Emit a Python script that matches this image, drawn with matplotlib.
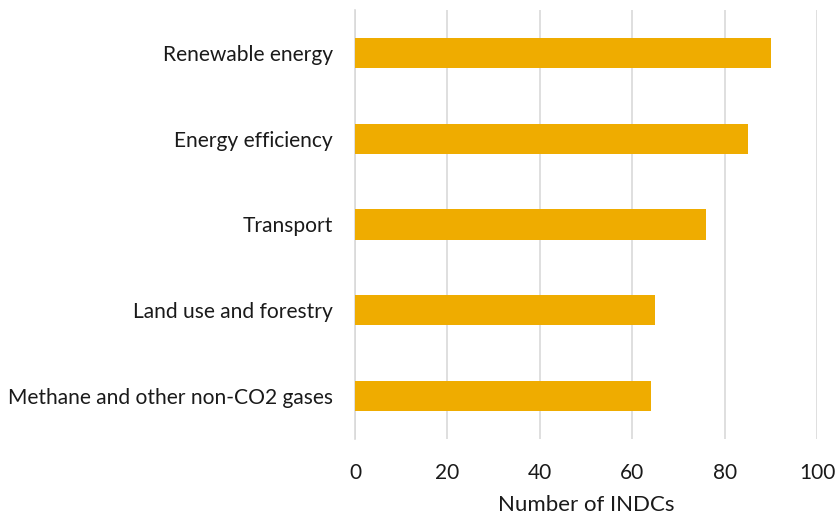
import matplotlib.pyplot as plt

categories = ['Renewable energy', 'Energy efficiency', 'Transport',
              'Land use and forestry', 'Methane and other non-CO2 gases']
counts = [90, 85, 76, 65, 64]
x_ticks = [0, 20, 40, 60, 80, 100]

plt.rcParams['font.family'] = ['Lato', 'DejaVu Sans']

fig = plt.figure(figsize=(8.36, 5.14), dpi=100)
ax = fig.add_axes([355 / 836, 1 - 439 / 514, 462 / 836, 429 / 514])

# top category first
ypos = list(range(len(categories)))[::-1]
ax.barh(ypos, counts, height=0.35, color='#EFAC00', zorder=3)

ax.set_xlim(0, 100)
ax.set_ylim(-0.5, len(categories) - 0.5)
ax.set_xticks(x_ticks)
ax.set_yticks(ypos)
ax.set_yticklabels(categories, fontsize=15.1, color='#1a1a1a')
ax.tick_params(axis='x', labelsize=15, colors='#1a1a1a', length=0, pad=17)
ax.tick_params(axis='y', length=0, pad=16)
ax.grid(axis='x', color='#D9D9D9', linewidth=1.2, zorder=0)

for side in ['top', 'right', 'bottom']:
    ax.spines[side].set_visible(False)
ax.spines['left'].set_color('#D9D9D9')
ax.spines['left'].set_linewidth(1.2)

ax.set_xlabel('Number of INDCs', fontsize=16, color='#1a1a1a', labelpad=9)

fig.savefig('out.png', dpi=100)
